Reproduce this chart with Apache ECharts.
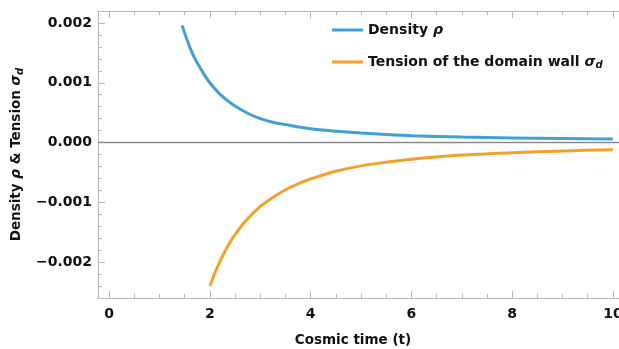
<!DOCTYPE html>
<html>
<head>
<meta charset="utf-8">
<script src="https://cdn.jsdelivr.net/npm/echarts@6/dist/echarts.min.js"></script>
<style>
  html, body { margin: 0; padding: 0; background: #ffffff; overflow: hidden; }
  #chart { width: 619px; height: 349px; }
</style>
</head>
<body>
<div id="chart"></div>
<script>
// Cosmic time samples and the two curves
const timeDensity = [1.45, 1.5, 1.6, 1.7, 1.8, 1.9, 2.0, 2.1, 2.2, 2.35, 2.5, 2.75, 3.0, 3.25, 3.5, 4.0, 4.5, 5.0, 5.5, 6.0, 7.0, 8.0, 9.0, 10.0];
const density = [0.00196, 0.00183, 0.00160, 0.00141, 0.00126, 0.00112, 0.00100, 0.00090, 0.00081, 0.00070, 0.00061, 0.00049, 0.00040, 0.00034, 0.00030, 0.00023, 0.00019, 0.00016, 0.000135, 0.000115, 0.000092, 0.000078, 0.000068, 0.00006];

const timeTension = [2.0, 2.05, 2.1, 2.2, 2.3, 2.4, 2.5, 2.65, 2.8, 3.0, 3.25, 3.5, 3.75, 4.0, 4.5, 5.0, 5.5, 6.0, 7.0, 8.0, 9.0, 10.0];
const tension = [-0.00240, -0.00229, -0.00218, -0.00199, -0.00182, -0.00167, -0.00154, -0.00137, -0.00123, -0.00107, -0.00092, -0.00079, -0.00069, -0.00061, -0.00048, -0.00039, -0.00033, -0.00028, -0.00021, -0.00017, -0.00014, -0.00012];

// Axis ticks
const xMajorTicks = [0, 2, 4, 6, 8, 10];
const xMinorTicks = [0.5, 1, 1.5, 2.5, 3, 3.5, 4.5, 5, 5.5, 6.5, 7, 7.5, 8.5, 9, 9.5];
const yMajorTicks = [-0.002, -0.001, 0, 0.001, 0.002];
const yMinorTicks = [-0.0024, -0.0022, -0.0018, -0.0016, -0.0014, -0.0012, -0.0008, -0.0006, -0.0004, -0.0002,
                     0.0002, 0.0004, 0.0006, 0.0008, 0.0012, 0.0014, 0.0016, 0.0018];

const X_MIN = -0.22, X_MAX = 10.22;
const Y_MIN = -0.0026, Y_MAX = 0.0022;

const BLUE = '#3f9fd6';
const ORANGE = '#f2a12b';
const FRAME = '#b8b8b8';
const FONT = 'DejaVu Sans';
const TEXT = '#111111';

function fmtY(v) {
  const s = Math.abs(v).toFixed(3);
  return v < -1e-12 ? '\u2212' + s : s;
}

function zip(xs, ys) { return xs.map((x, i) => [x, ys[i]]); }

function richStyles(size) {
  return {
    b: { fontFamily: FONT, fontWeight: 'bold', fontSize: size, color: TEXT },
    i: { fontFamily: FONT, fontStyle: 'italic', fontSize: size, color: TEXT },
    s: { fontFamily: FONT, fontStyle: 'italic', fontWeight: 'bold', fontSize: 10, color: TEXT, padding: [7, 0, 0, 0] }
  };
}

const chart = echarts.init(document.getElementById('chart'), null, { renderer: 'canvas' });

const baseX = { type: 'value', min: X_MIN, max: X_MAX, splitLine: { show: false } };
const baseY = { type: 'value', min: Y_MIN, max: Y_MAX, splitLine: { show: false } };
const frameLine = { show: true, onZero: false, lineStyle: { color: FRAME, width: 1 } };
const noLine = { show: false, onZero: false };

const option = {
  backgroundColor: '#ffffff',
  animation: false,
  grid: {
    left: 98, top: 11, right: -5, bottom: 51,
    outerBoundsMode: 'none', containLabel: false,
    show: false
  },
  legend: {
    orient: 'vertical',
    left: 327, top: 18,
    itemWidth: 31, itemHeight: 3,
    itemGap: 18,
    icon: 'rect',
    selectedMode: false,
    textStyle: {
      fontFamily: FONT, fontWeight: 'bold', fontSize: 14, color: TEXT,
      padding: 0,
      rich: richStyles(14)
    },
    formatter: function (name) {
      if (name === 'Density') return '{b|Density }{i|ρ}';
      return '{b|Tension of the domain wall }{i|σ}{s|d}';
    },
    data: ['Density', 'Tension']
  },
  graphic: [{
    type: 'text',
    x: 353, y: 340,
    style: {
      text: 'Cosmic time (t)',
      align: 'center', verticalAlign: 'middle',
      font: 'bold 13.5px "DejaVu Sans"',
      fill: TEXT
    }
  }],
  xAxis: [
    Object.assign({}, baseX, {
      position: 'bottom',
      axisLine: frameLine,
      axisTick: { show: true, inside: true, length: 7, customValues: xMajorTicks, lineStyle: { color: FRAME } },
      axisLabel: { show: true, customValues: xMajorTicks, margin: 9, fontFamily: FONT, fontWeight: 'bold', fontSize: 14, color: TEXT }
    }),
    Object.assign({}, baseX, {
      position: 'bottom',
      axisLine: noLine,
      axisTick: { show: true, inside: true, length: 4, customValues: xMinorTicks, lineStyle: { color: FRAME } },
      axisLabel: { show: false }
    }),
    Object.assign({}, baseX, {
      position: 'top',
      axisLine: frameLine,
      axisTick: { show: true, inside: true, length: 7, customValues: xMajorTicks, lineStyle: { color: FRAME } },
      axisLabel: { show: false }
    }),
    Object.assign({}, baseX, {
      position: 'top',
      axisLine: noLine,
      axisTick: { show: true, inside: true, length: 4, customValues: xMinorTicks, lineStyle: { color: FRAME } },
      axisLabel: { show: false }
    })
  ],
  yAxis: [
    Object.assign({}, baseY, {
      position: 'left',
      name: '{b|Density }{i|ρ}{b| & Tension }{i|σ}{s|d}',
      nameLocation: 'middle',
      nameGap: 67,
      nameTextStyle: { fontFamily: FONT, fontWeight: 'bold', fontSize: 13.5, color: TEXT, rich: richStyles(13.5) },
      axisLine: frameLine,
      axisTick: { show: true, inside: true, length: 7, customValues: yMajorTicks, lineStyle: { color: FRAME } },
      axisLabel: { show: true, customValues: yMajorTicks, margin: 6, formatter: fmtY, fontFamily: FONT, fontWeight: 'bold', fontSize: 14, color: TEXT }
    }),
    Object.assign({}, baseY, {
      position: 'left',
      axisLine: noLine,
      axisTick: { show: true, inside: true, length: 4, customValues: yMinorTicks, lineStyle: { color: FRAME } },
      axisLabel: { show: false }
    })
  ],
  series: [
    {
      name: 'Density',
      type: 'line',
      xAxisIndex: 0, yAxisIndex: 0,
      data: zip(timeDensity, density),
      smooth: 0.3,
      showSymbol: false,
      lineStyle: { color: BLUE, width: 3 },
      itemStyle: { color: BLUE },
      z: 3,
      markLine: {
        silent: true,
        symbol: 'none',
        label: { show: false },
        lineStyle: { color: '#8a8a8a', width: 1.3, type: 'solid' },
        data: [{ yAxis: 0 }]
      }
    },
    {
      name: 'Tension',
      type: 'line',
      xAxisIndex: 0, yAxisIndex: 0,
      data: zip(timeTension, tension),
      smooth: 0.3,
      showSymbol: false,
      lineStyle: { color: ORANGE, width: 3 },
      itemStyle: { color: ORANGE },
      z: 3
    }
  ]
};

chart.setOption(option);
</script>
</body>
</html>
